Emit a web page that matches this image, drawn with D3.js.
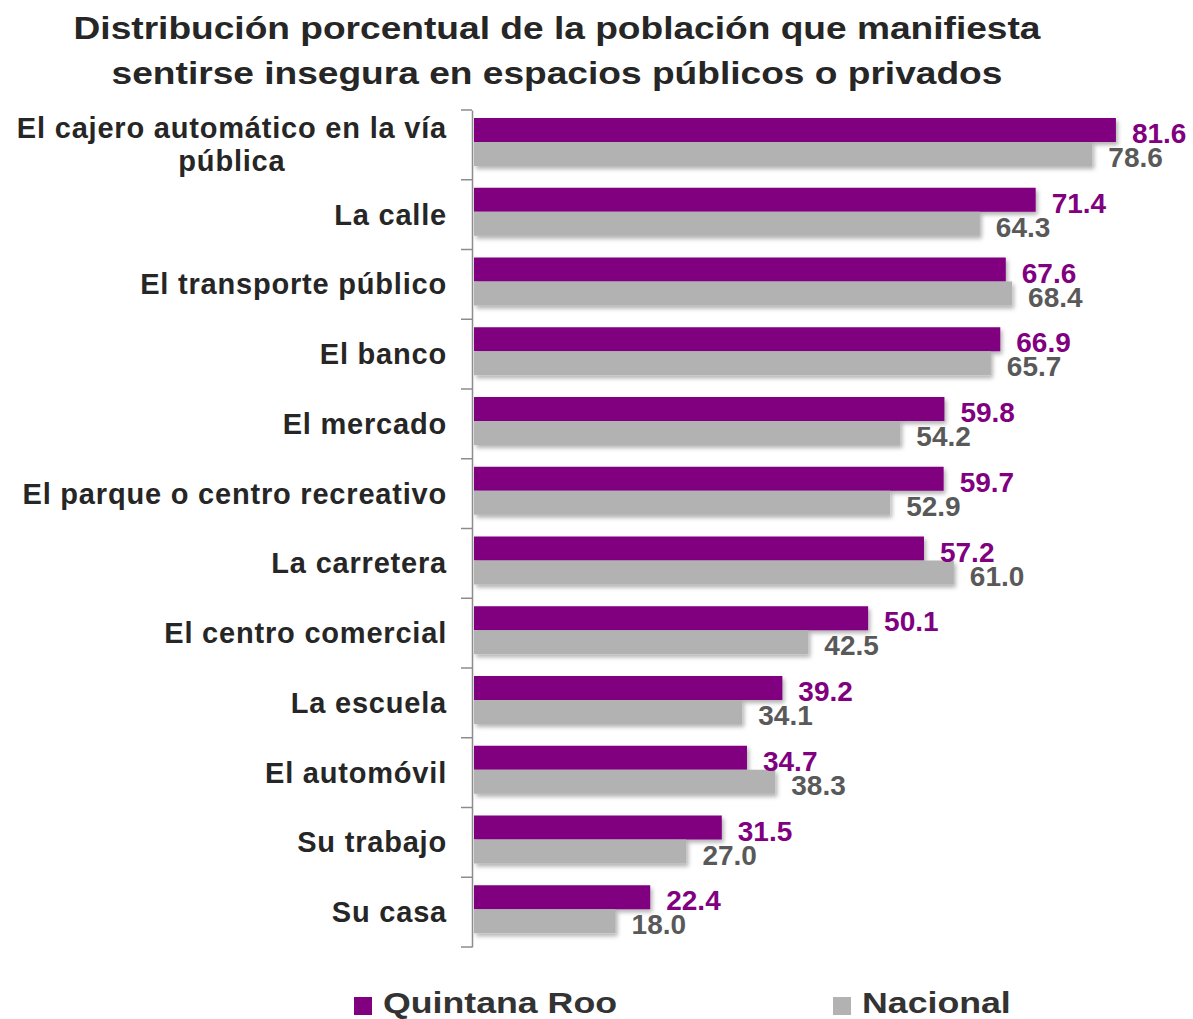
<!DOCTYPE html>
<html lang="es">
<head>
    <meta charset="UTF-8">
    <title>Población que se siente insegura</title>
    <script src="https://d3js.org/d3.v7.min.js"></script>
    <style>
        body {
            margin: 0;
            padding: 0;
            background: #fff;
        }

        svg {
            display: block;
            font-family: "Liberation Sans", Arial, sans-serif;
        }
    </style>
</head>
<body>
<svg id="chart" width="1193" height="1019"></svg>
<script>
    var categories = [
        'El cajero automático en la vía\npública',
        'La calle',
        'El transporte público',
        'El banco',
        'El mercado',
        'El parque o centro recreativo',
        'La carretera',
        'El centro comercial',
        'La escuela',
        'El automóvil',
        'Su trabajo',
        'Su casa'
    ];
    var series = ['Quintana Roo', 'Nacional'];
    var quintanaRoo = [81.6, 71.4, 67.6, 66.9, 59.8, 59.7, 57.2, 50.1, 39.2, 34.7, 31.5, 22.4];
    var nacional = [78.6, 64.3, 68.4, 65.7, 54.2, 52.9, 61.0, 42.5, 34.1, 38.3, 27.0, 18.0];
    var titleLines = [
        'Distribución porcentual de la población que manifiesta',
        'sentirse insegura en espacios públicos o privados'
    ];

    var barColors = {'Quintana Roo': '#800080', 'Nacional': '#b2b2b2'};
    var labelColors = {'Quintana Roo': '#800080', 'Nacional': '#595959'};

    var rows = categories.map(function (c, i) {
        return {category: c, values: [
            {key: 'Quintana Roo', value: quintanaRoo[i]},
            {key: 'Nacional', value: nacional[i]}
        ]};
    });

    var svg = d3.select('#chart');

    var defs = svg.append('defs');
    var shadow = defs.append('filter').attr('id', 'shadow')
        .attr('x', '-5%').attr('y', '-20%').attr('width', '115%').attr('height', '160%');
    shadow.append('feDropShadow')
        .attr('dx', 2).attr('dy', 3).attr('stdDeviation', 2)
        .attr('flood-color', '#000').attr('flood-opacity', 0.3);

    // title (the original is a bit wider than Arial, so stretch it horizontally)
    svg.append('g')
        .selectAll('text')
        .data(titleLines)
        .enter().append('text')
        .attr('transform', function (d, i) { return 'translate(557,' + (39 + i * 45) + ') scale(1.16,1)'; })
        .attr('text-anchor', 'middle')
        .attr('font-size', '32px')
        .attr('font-weight', 'bold')
        .attr('fill', '#262626')
        .text(function (d) { return d; });

    var x = d3.scaleLinear().domain([0, 90]).range([474, 1182]);
    var y = d3.scaleBand().domain(categories).range([110, 947]);
    var ySub = d3.scaleBand().domain(series).range([8, 56]);

    // bars
    var groups = svg.append('g')
        .selectAll('g')
        .data(rows)
        .enter().append('g')
        .attr('transform', function (d) { return 'translate(0,' + y(d.category) + ')'; });

    groups.selectAll('rect')
        .data(function (d) { return d.values; })
        .enter().append('rect')
        .attr('x', x(0))
        .attr('y', function (d) { return ySub(d.key); })
        .attr('width', function (d) { return x(d.value) - x(0); })
        .attr('height', ySub.bandwidth())
        .attr('fill', function (d) { return barColors[d.key]; })
        .attr('filter', 'url(#shadow)');

    groups.selectAll('text')
        .data(function (d) { return d.values; })
        .enter().append('text')
        .attr('x', function (d) { return x(d.value) + 16; })
        .attr('y', function (d) { return ySub(d.key) + ySub.bandwidth() + 1; })
        .attr('font-size', '28px')
        .attr('font-weight', 'bold')
        .attr('fill', function (d) { return labelColors[d.key]; })
        .text(function (d) { return d3.format('.1f')(d.value); });

    // category axis
    var axis = svg.append('g')
        .attr('transform', 'translate(472,0)')
        .call(d3.axisLeft(y).tickSize(0).tickFormat(''));
    axis.select('.domain').attr('stroke', '#8c8c8c').attr('stroke-width', 1.5);
    axis.selectAll('.tick').remove();
    axis.selectAll('line.sep')
        .data(d3.range(categories.length + 1))
        .enter().append('line')
        .attr('class', 'sep')
        .attr('x1', -11).attr('x2', 0)
        .attr('y1', function (i) { return i < categories.length ? y(categories[i]) : y.range()[1]; })
        .attr('y2', function (i) { return i < categories.length ? y(categories[i]) : y.range()[1]; })
        .attr('stroke', '#8c8c8c').attr('stroke-width', 1.5);

    // category labels (multi-line labels are centered as a block, right aligned)
    var labelRight = 447;
    var lineHeight = 33;
    var labels = svg.append('g')
        .attr('font-size', '29px')
        .attr('font-weight', 'bold')
        .attr('letter-spacing', '0.8px')
        .attr('fill', '#262626');
    rows.forEach(function (r) {
        var lines = r.category.split('\n');
        var cy = y(r.category) + y.bandwidth() / 2;
        var t = labels.append('text');
        var tspans = lines.map(function (l, i) {
            return t.append('tspan')
                .attr('y', cy + (i - (lines.length - 1) / 2) * lineHeight + 10)
                .text(l);
        });
        var widths = tspans.map(function (s) { return s.node().getComputedTextLength(); });
        var maxW = d3.max(widths);
        t.attr('text-anchor', 'middle');
        tspans.forEach(function (s) { s.attr('x', labelRight - maxW / 2); });
    });

    // legend
    var legendX = [354, 833];
    var legend = svg.append('g')
        .selectAll('g')
        .data(series)
        .enter().append('g')
        .attr('transform', function (d, i) { return 'translate(' + legendX[i] + ',997)'; });
    legend.append('rect')
        .attr('width', 18).attr('height', 18)
        .attr('fill', function (d) { return barColors[d]; });
    legend.append('text')
        .attr('transform', 'translate(29,16) scale(1.19,1)')
        .attr('font-size', '30px')
        .attr('font-weight', 'bold')
        .attr('fill', '#333')
        .text(function (d) { return d; });
</script>
</body>
</html>
